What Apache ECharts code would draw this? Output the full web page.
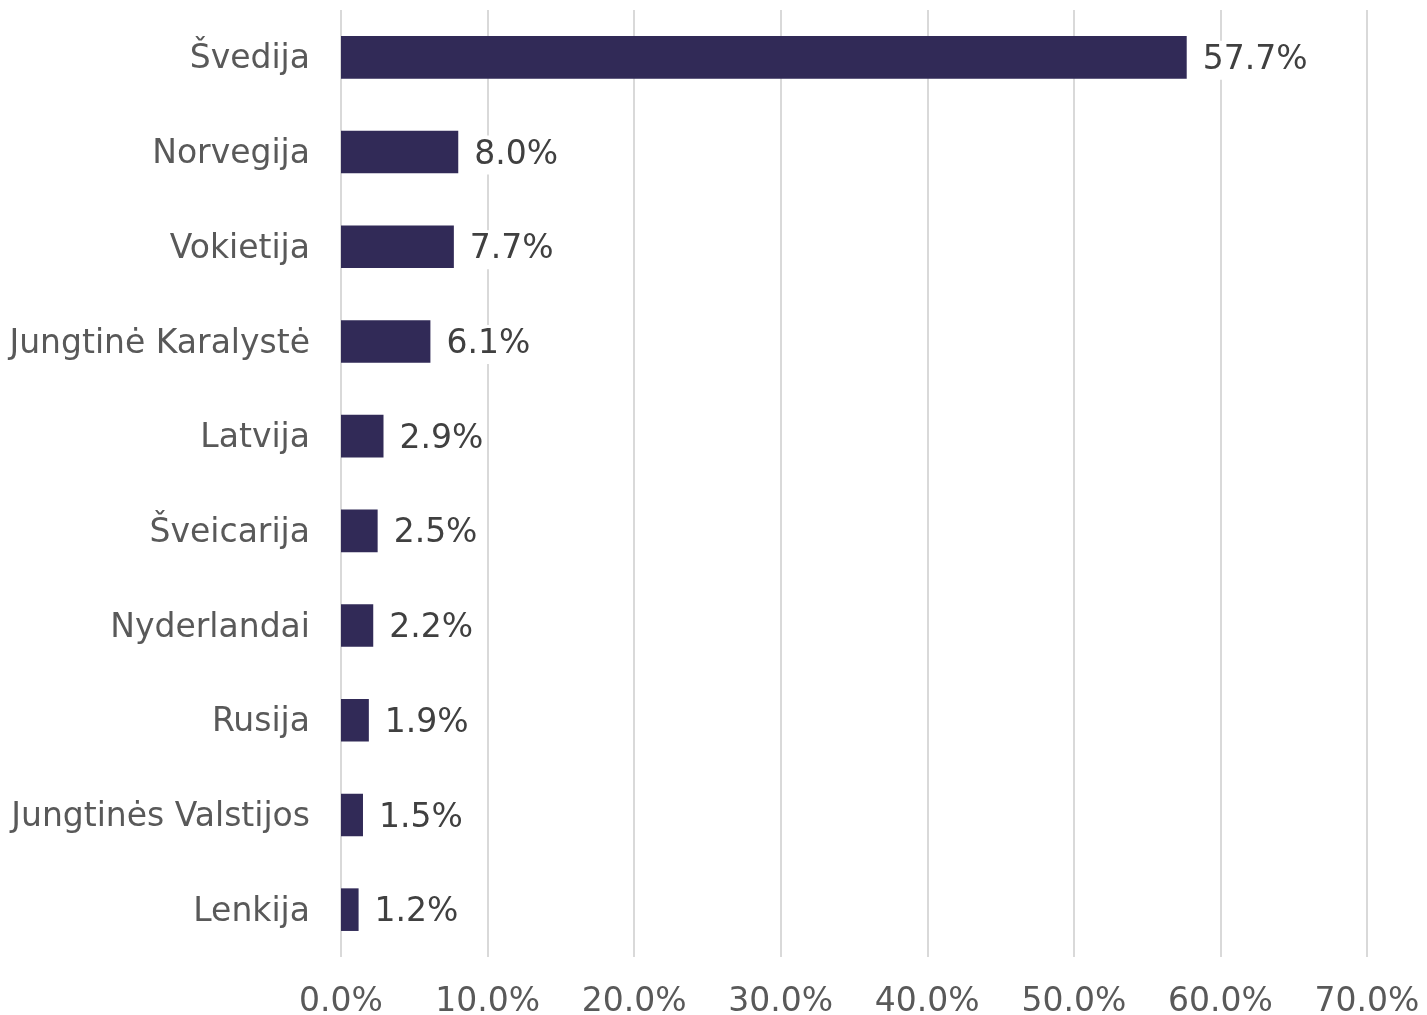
<!DOCTYPE html>
<html>
<head>
<meta charset="utf-8">
<script src="https://cdn.jsdelivr.net/npm/echarts@6/dist/echarts.min.js"></script>
<style>
html,body{margin:0;padding:0;background:#fff;}
#chart{width:1427px;height:1015px;}
</style>
</head>
<body>
<div id="chart"></div>
<script>
var categories = ['Švedija','Norvegija','Vokietija','Jungtinė Karalystė','Latvija','Šveicarija','Nyderlandai','Rusija','Jungtinės Valstijos','Lenkija'];
var values = [57.7, 8.0, 7.7, 6.1, 2.9, 2.5, 2.2, 1.9, 1.5, 1.2];

var chart = echarts.init(document.getElementById('chart'));
chart.setOption({
  animation: false,
  backgroundColor: '#ffffff',
  grid: {left: 341, right: 60, top: 10, bottom: 58, containLabel: false, outerBoundsMode: 'none'},
  xAxis: {
    type: 'value', min: 0, max: 70, interval: 10,
    axisLine: {show: false}, axisTick: {show: false},
    splitLine: {show: true, lineStyle: {color: '#d9d9d9', width: 2}},
    axisLabel: {
      formatter: function(v){ return v.toFixed(1) + '%'; },
      color: '#595959', fontFamily: 'DejaVu Sans', fontSize: 33, margin: 29
    }
  },
  yAxis: {
    type: 'category', data: categories, inverse: true,
    axisLine: {show: false}, axisTick: {show: false},
    axisLabel: {
      margin: 31,
      formatter: function(v){ return '{a|' + v + '}'; },
      rich: {a: {color: '#595959', fontFamily: 'DejaVu Sans', fontSize: 33, padding: [5, 0, 0, 0]}}
    }
  },
  series: [{
    type: 'bar', data: values, barCategoryGap: '55%',
    itemStyle: {color: '#312a57'},
    label: {
      show: true, position: 'right', distance: 13, offset: [0, 3],
      formatter: function(p){ return p.value.toFixed(1) + '%'; },
      color: '#404040', fontFamily: 'DejaVu Sans', fontSize: 33,
      backgroundColor: '#ffffff', padding: [3, 3, 3, 3]
    }
  }]
});
</script>
</body>
</html>
